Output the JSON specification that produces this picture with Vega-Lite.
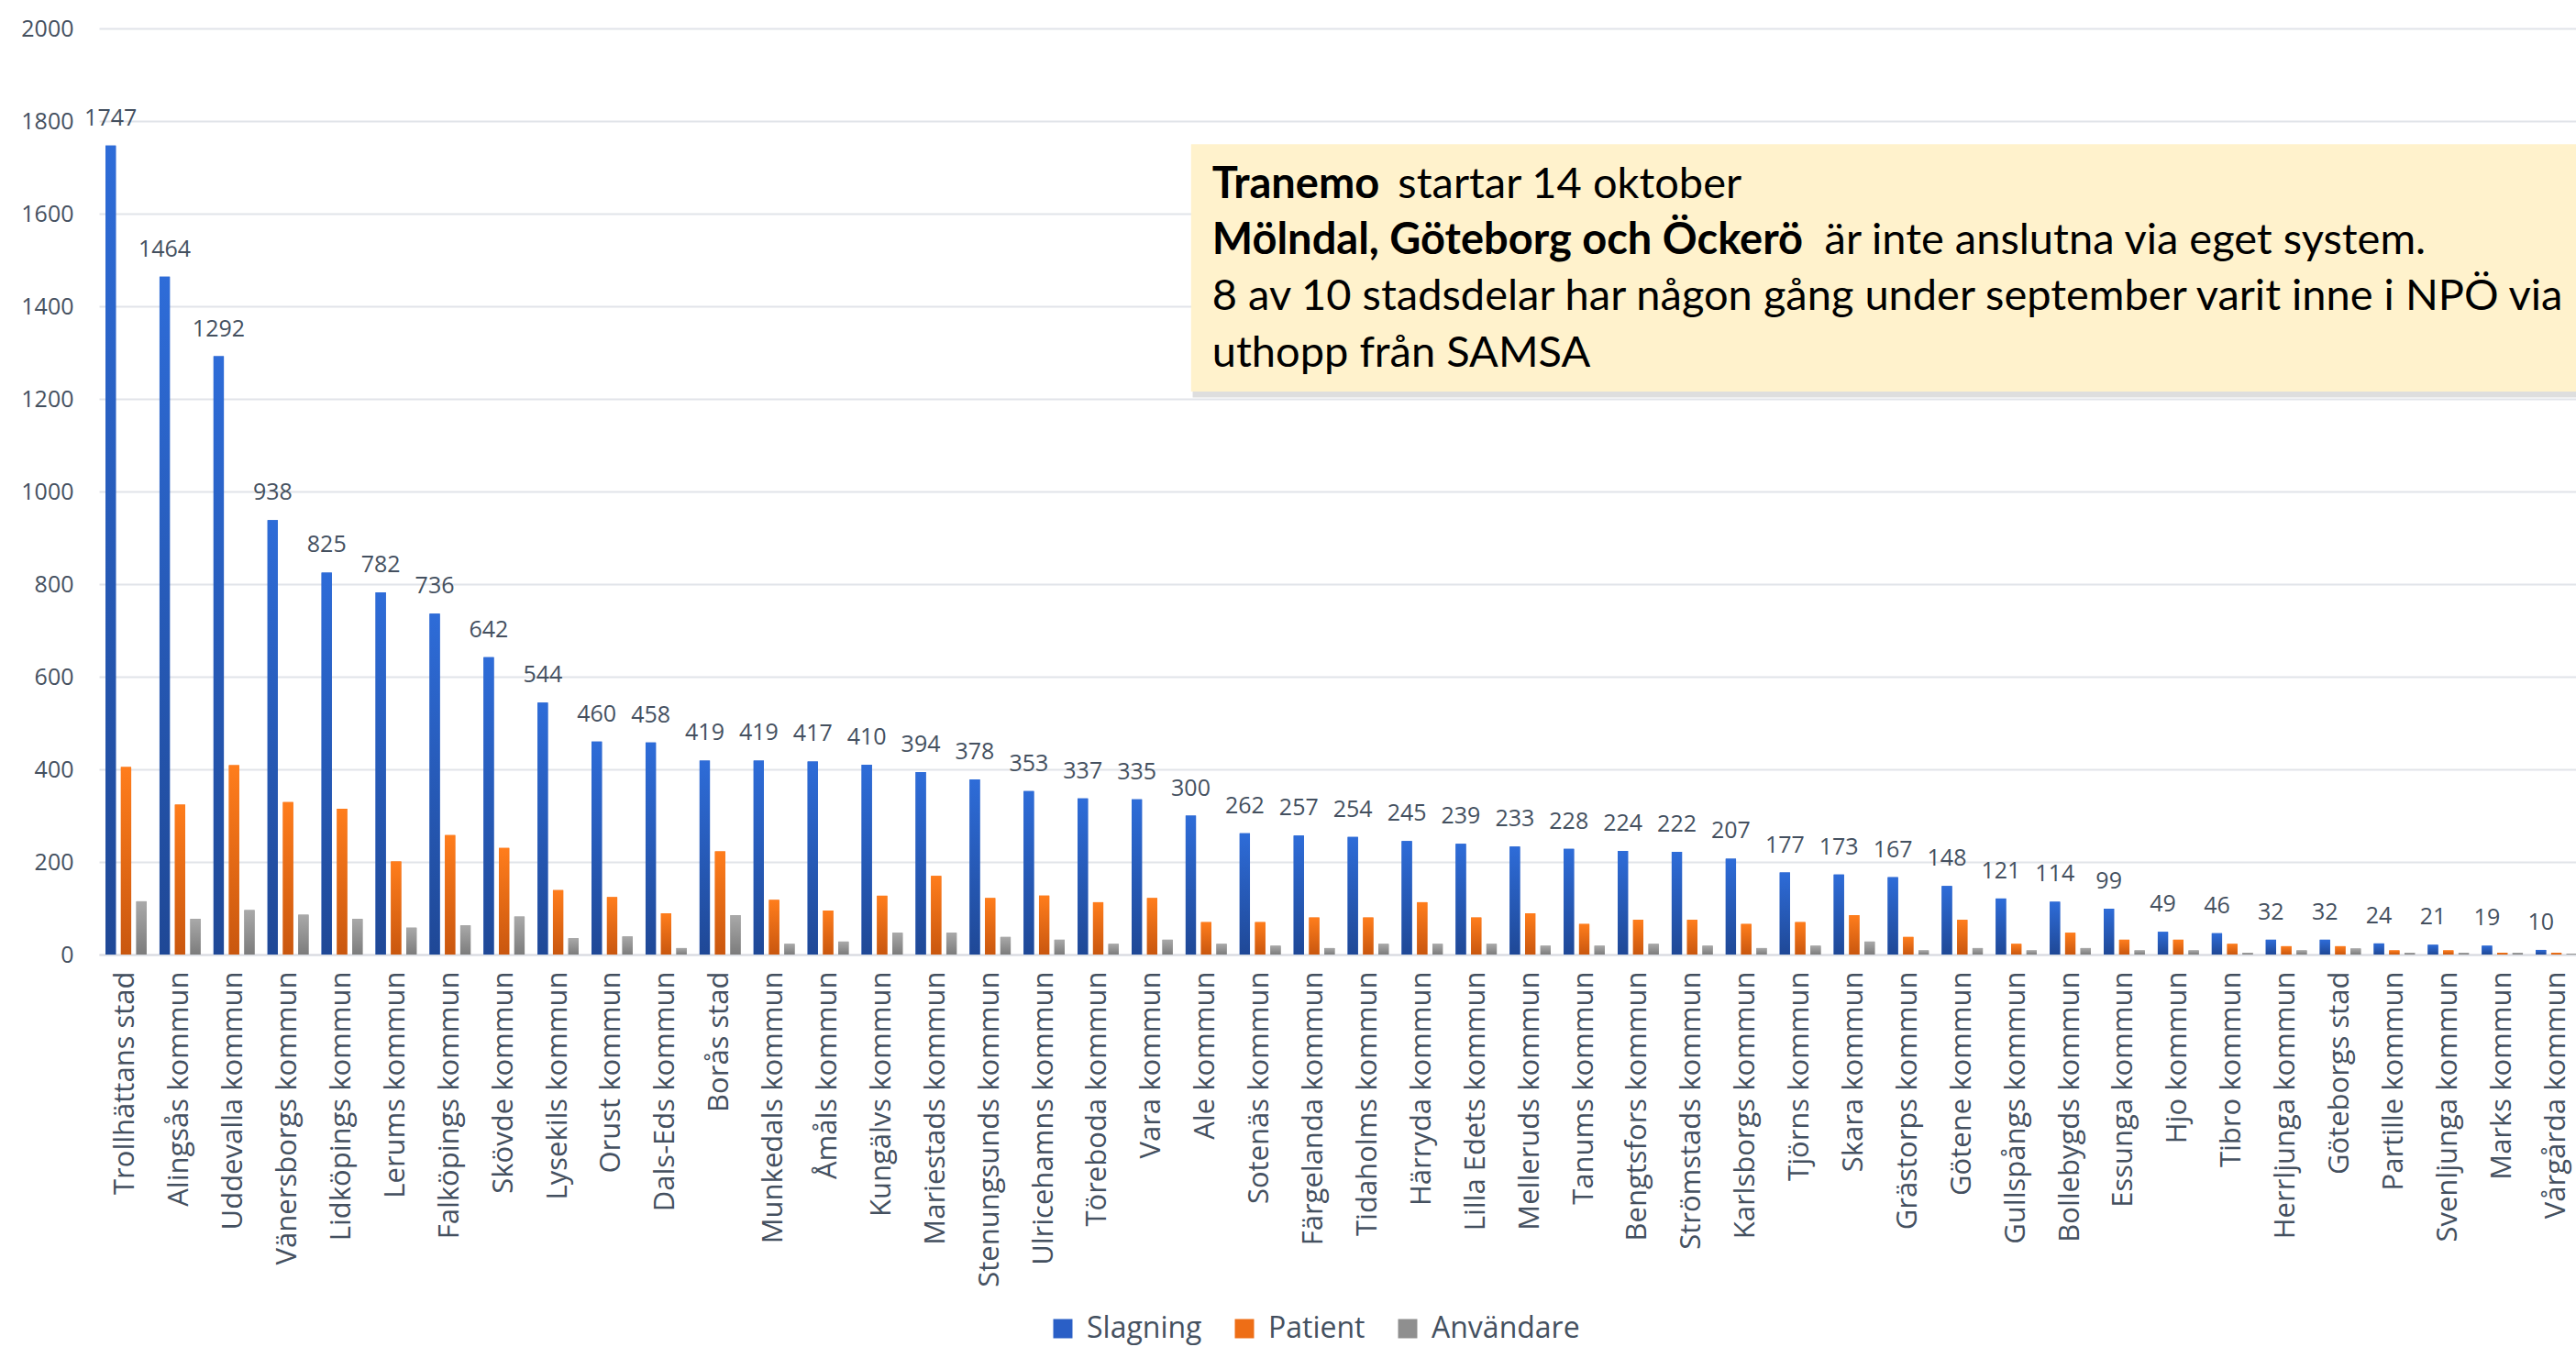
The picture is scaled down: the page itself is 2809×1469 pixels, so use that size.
{
  "$schema": "https://vega.github.io/schema/vega-lite/v6.json",
  "width": 2701,
  "height": 1010,
  "autosize": {"type": "none"},
  "padding": {"left": 108, "top": 31, "right": 0, "bottom": 428},
  "background": "white",
  "config": {"view": {"stroke": null}, "font": "Open Sans"},
  "datasets": {
    "kommuner": [
      {"kommun": "Trollhättans stad", "Slagning": 1747, "Patient": 405, "Användare": 115},
      {"kommun": "Alingsås kommun", "Slagning": 1464, "Patient": 324, "Användare": 77},
      {"kommun": "Uddevalla kommun", "Slagning": 1292, "Patient": 409, "Användare": 96},
      {"kommun": "Vänersborgs kommun", "Slagning": 938, "Patient": 329, "Användare": 86},
      {"kommun": "Lidköpings kommun", "Slagning": 825, "Patient": 315, "Användare": 77},
      {"kommun": "Lerums kommun", "Slagning": 782, "Patient": 201, "Användare": 58},
      {"kommun": "Falköpings kommun", "Slagning": 736, "Patient": 258, "Användare": 63},
      {"kommun": "Skövde kommun", "Slagning": 642, "Patient": 230, "Användare": 82},
      {"kommun": "Lysekils kommun", "Slagning": 544, "Patient": 139, "Användare": 35},
      {"kommun": "Orust kommun", "Slagning": 460, "Patient": 124, "Användare": 39},
      {"kommun": "Dals-Eds kommun", "Slagning": 458, "Patient": 89, "Användare": 14},
      {"kommun": "Borås stad", "Slagning": 419, "Patient": 223, "Användare": 85},
      {"kommun": "Munkedals kommun", "Slagning": 419, "Patient": 118, "Användare": 23},
      {"kommun": "Åmåls kommun", "Slagning": 417, "Patient": 95, "Användare": 28},
      {"kommun": "Kungälvs kommun", "Slagning": 410, "Patient": 127, "Användare": 47},
      {"kommun": "Mariestads kommun", "Slagning": 394, "Patient": 170, "Användare": 47},
      {"kommun": "Stenungsunds kommun", "Slagning": 378, "Patient": 122, "Användare": 38},
      {"kommun": "Ulricehamns kommun", "Slagning": 353, "Patient": 127, "Användare": 32},
      {"kommun": "Töreboda kommun", "Slagning": 337, "Patient": 113, "Användare": 23},
      {"kommun": "Vara kommun", "Slagning": 335, "Patient": 122, "Användare": 32},
      {"kommun": "Ale kommun", "Slagning": 300, "Patient": 70, "Användare": 23},
      {"kommun": "Sotenäs kommun", "Slagning": 262, "Patient": 70, "Användare": 19},
      {"kommun": "Färgelanda kommun", "Slagning": 257, "Patient": 80, "Användare": 14},
      {"kommun": "Tidaholms kommun", "Slagning": 254, "Patient": 80, "Användare": 23},
      {"kommun": "Härryda kommun", "Slagning": 245, "Patient": 113, "Användare": 23},
      {"kommun": "Lilla Edets kommun", "Slagning": 239, "Patient": 80, "Användare": 23},
      {"kommun": "Melleruds kommun", "Slagning": 233, "Patient": 89, "Användare": 19},
      {"kommun": "Tanums kommun", "Slagning": 228, "Patient": 66, "Användare": 19},
      {"kommun": "Bengtsfors kommun", "Slagning": 224, "Patient": 75, "Användare": 23},
      {"kommun": "Strömstads kommun", "Slagning": 222, "Patient": 75, "Användare": 19},
      {"kommun": "Karlsborgs kommun", "Slagning": 207, "Patient": 66, "Användare": 14},
      {"kommun": "Tjörns kommun", "Slagning": 177, "Patient": 70, "Användare": 19},
      {"kommun": "Skara kommun", "Slagning": 173, "Patient": 85, "Användare": 28},
      {"kommun": "Grästorps kommun", "Slagning": 167, "Patient": 38, "Användare": 9},
      {"kommun": "Götene kommun", "Slagning": 148, "Patient": 75, "Användare": 14},
      {"kommun": "Gullspångs kommun", "Slagning": 121, "Patient": 23, "Användare": 9},
      {"kommun": "Bollebygds kommun", "Slagning": 114, "Patient": 47, "Användare": 14},
      {"kommun": "Essunga kommun", "Slagning": 99, "Patient": 32, "Användare": 9},
      {"kommun": "Hjo kommun", "Slagning": 49, "Patient": 32, "Användare": 9},
      {"kommun": "Tibro kommun", "Slagning": 46, "Patient": 23, "Användare": 4},
      {"kommun": "Herrljunga kommun", "Slagning": 32, "Patient": 18, "Användare": 9},
      {"kommun": "Göteborgs stad", "Slagning": 32, "Patient": 18, "Användare": 13},
      {"kommun": "Partille kommun", "Slagning": 24, "Patient": 9, "Användare": 4},
      {"kommun": "Svenljunga kommun", "Slagning": 21, "Patient": 9, "Användare": 4},
      {"kommun": "Marks kommun", "Slagning": 19, "Patient": 4, "Användare": 4},
      {"kommun": "Vårgårda kommun", "Slagning": 10, "Patient": 4, "Användare": 2}
    ],
    "ruta": [
      {"x0": 20.25, "x1": 46.5, "y0": 1745, "y1": 1203, "typ": "skugga"},
      {"x0": 20.22, "x1": 46.5, "y0": 1750, "y1": 1216, "typ": "ruta"}
    ],
    "notis": [
      {"x": 20.61, "y": 1634, "text": "Tranemo", "fet": true},
      {"x": 24.05, "y": 1634, "text": "startar 14 oktober", "fet": false},
      {"x": 20.61, "y": 1513, "text": "Mölndal, Göteborg och Öckerö", "fet": true},
      {"x": 31.95, "y": 1513, "text": "är inte anslutna via eget system.", "fet": false},
      {"x": 20.61, "y": 1392, "text": "8 av 10 stadsdelar har någon gång under september varit inne i NPÖ via", "fet": false},
      {"x": 20.61, "y": 1269, "text": "uthopp från SAMSA", "fet": false}
    ]
  },
  "layer": [
    {
      "data": {"name": "kommuner"},
      "transform": [{"fold": ["Slagning", "Patient", "Användare"], "as": ["serie", "antal"]}],
      "encoding": {
        "x": {
          "field": "kommun", "type": "nominal", "sort": null,
          "scale": {"range": [0, 2709], "paddingInner": 0.24, "paddingOuter": 0.12},
          "axis": {
            "title": null, "labelAngle": -90, "labelFontSize": 31, "labelColor": "#44505F",
            "labelPadding": 18, "ticks": false, "domain": true, "domainColor": "#D9DCE1",
            "domainWidth": 2, "grid": false, "labelLimit": 1000, "labelOverlap": false
          }
        },
        "xOffset": {
          "field": "serie", "type": "nominal",
          "scale": {"domain": ["Slagning", "Patient", "Användare"], "paddingInner": 0.33, "paddingOuter": 0}
        },
        "y": {
          "field": "antal", "type": "quantitative",
          "scale": {"domain": [0, 2000], "nice": false},
          "axis": {
            "title": null, "values": [0, 200, 400, 600, 800, 1000, 1200, 1400, 1600, 1800, 2000],
            "format": "d",
            "labelFontSize": 25, "labelColor": "#44505F", "labelPadding": 28, "ticks": false,
            "domain": false, "grid": true, "gridColor": "#E1E4E9", "gridWidth": 2
          }
        }
      },
      "layer": [
        {
          "mark": {"type": "bar"},
          "encoding": {
            "color": {
              "field": "serie", "type": "nominal",
              "scale": {"domain": ["Slagning", "Patient", "Användare"], "range": ["#2A5FC6", "#EE6E16", "#8F8F8F"]},
              "legend": {
                "orient": "none", "legendX": 1035, "legendY": 1402, "direction": "horizontal",
                "title": null, "symbolType": "square", "symbolSize": 440, "labelFontSize": 32,
                "labelColor": "#44505F", "columnPadding": 30, "labelOffset": 10, "symbolStrokeWidth": 0,
                "labelLimit": 500
              }
            }
          }
        },
        {
          "transform": [{"filter": "datum.serie === 'Slagning'"}],
          "mark": {"type": "bar", "color": {"gradient": "linear", "x1": 0, "y1": 0, "x2": 0, "y2": 1,
            "stops": [{"offset": 0, "color": "#2E6CD8"}, {"offset": 1, "color": "#1F4896"}]}}
        },
        {
          "transform": [{"filter": "datum.serie === 'Patient'"}],
          "mark": {"type": "bar", "color": {"gradient": "linear", "x1": 0, "y1": 0, "x2": 0, "y2": 1,
            "stops": [{"offset": 0, "color": "#FF7D1C"}, {"offset": 1, "color": "#C9570F"}]}}
        },
        {
          "transform": [{"filter": "datum.serie === 'Användare'"}],
          "mark": {"type": "bar", "color": {"gradient": "linear", "x1": 0, "y1": 0, "x2": 0, "y2": 1,
            "stops": [{"offset": 0, "color": "#A9A9A9"}, {"offset": 1, "color": "#7C7C7C"}]}}
        },
        {
          "transform": [{"filter": "datum.serie === 'Slagning'"}],
          "mark": {"type": "text", "baseline": "alphabetic", "align": "center", "dy": -22,
            "fontSize": 25, "color": "#44505F", "font": "Open Sans"},
          "encoding": {"text": {"field": "antal", "type": "quantitative"}}
        }
      ]
    },
    {
      "layer": [
        {
          "data": {"name": "ruta"},
          "transform": [{"filter": "datum.typ === 'skugga'"}],
          "mark": {"type": "rect", "color": "#000000", "opacity": 0.13},
          "encoding": {
            "x": {"field": "x0", "type": "quantitative", "scale": {"domain": [0, 46], "range": [0, 2709]}, "axis": null},
            "x2": {"field": "x1"},
            "y": {"field": "y0", "type": "quantitative", "scale": {"domain": [0, 2000], "nice": false}, "axis": null},
            "y2": {"field": "y1"}
          }
        },
        {
          "data": {"name": "ruta"},
          "transform": [{"filter": "datum.typ === 'ruta'"}],
          "mark": {"type": "rect", "color": "#FFF2CC", "opacity": 1},
          "encoding": {
            "x": {"field": "x0", "type": "quantitative", "scale": {"domain": [0, 46], "range": [0, 2709]}, "axis": null},
            "x2": {"field": "x1"},
            "y": {"field": "y0", "type": "quantitative", "scale": {"domain": [0, 2000], "nice": false}, "axis": null},
            "y2": {"field": "y1"}
          }
        },
        {
          "data": {"name": "notis"},
          "transform": [{"filter": "datum.fet"}],
          "mark": {"type": "text", "align": "left", "baseline": "alphabetic", "font": "Lato", "fontSize": 47, "fontWeight": "bold", "color": "#000000"},
          "encoding": {
            "x": {"field": "x", "type": "quantitative", "scale": {"domain": [0, 46], "range": [0, 2709]}, "axis": null},
            "y": {"field": "y", "type": "quantitative", "scale": {"domain": [0, 2000], "nice": false}, "axis": null},
            "text": {"field": "text"}
          }
        },
        {
          "data": {"name": "notis"},
          "transform": [{"filter": "!datum.fet"}],
          "mark": {"type": "text", "align": "left", "baseline": "alphabetic", "font": "Lato", "fontSize": 47, "color": "#000000"},
          "encoding": {
            "x": {"field": "x", "type": "quantitative", "scale": {"domain": [0, 46], "range": [0, 2709]}, "axis": null},
            "y": {"field": "y", "type": "quantitative", "scale": {"domain": [0, 2000], "nice": false}, "axis": null},
            "text": {"field": "text"}
          }
        }
      ]
    }
  ],
  "resolve": {"scale": {"x": "independent", "y": "independent", "color": "independent"}}
}
